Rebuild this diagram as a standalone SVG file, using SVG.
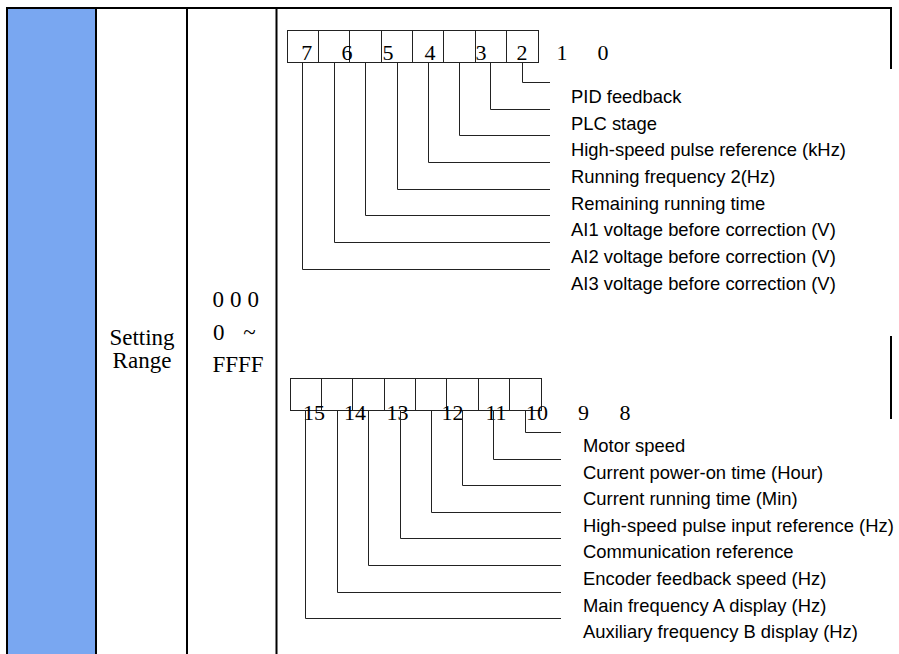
<svg xmlns="http://www.w3.org/2000/svg" width="899" height="654" viewBox="0 0 899 654">
<style>
.tb{stroke:#000;stroke-width:2;fill:none}
.bx{stroke:#222;stroke-width:1;fill:none}
.cn{stroke:#222;stroke-width:1;fill:none}
.tm{font-family:"Liberation Serif","Times New Roman",serif;font-size:23px;fill:#000}
.dg{font-family:"Liberation Serif","Times New Roman",serif;font-size:22px;fill:#000;text-anchor:middle}
.lb{font-family:"Liberation Sans",Arial,sans-serif;font-size:18.4px;fill:#000}
</style>
<rect width="899" height="654" fill="#fff"/>
<g id="table">
<rect x="8" y="9" width="87" height="645" fill="#79A7F1"/>
<path class="tb" d="M6 8H892M7 8V654M96 8V654M187 8V654M276.5 8V654M891 8V69M891 336V419"/>
<text class="tm" x="142" y="345" text-anchor="middle">Setting</text>
<text class="tm" x="142" y="368" text-anchor="middle">Range</text>
<text class="tm" x="212.5" y="306.5" letter-spacing="6">000</text>
<text class="tm" x="213" y="340" word-spacing="13">0 ~</text>
<text class="tm" x="238" y="371.5" text-anchor="middle">FFFF</text>
</g>
<g id="bits-low">
<rect class="bx" x="287.5" y="30.5" width="251" height="32"/>
<path class="bx" d="M318.5 30.5V62.5M349.5 30.5V62.5M381.5 30.5V62.5M412.5 30.5V62.5M443.5 30.5V62.5M475.5 30.5V62.5M506.5 30.5V62.5"/>
<text class="dg" x="306.7" y="60">7</text>
<text class="dg" x="347" y="60">6</text>
<text class="dg" x="388" y="60">5</text>
<text class="dg" x="430" y="60">4</text>
<text class="dg" x="481" y="60">3</text>
<text class="dg" x="522" y="60">2</text>
<text class="dg" x="562" y="60">1</text>
<text class="dg" x="603" y="60">0</text>
</g>
<g id="bits-high">
<rect class="bx" x="290.5" y="378.5" width="251" height="32"/>
<path class="bx" d="M321.5 378.5V410.5M352.5 378.5V410.5M384.5 378.5V410.5M415.5 378.5V410.5M446.5 378.5V410.5M478.5 378.5V410.5M509.5 378.5V410.5"/>
<text class="dg" x="314" y="420">15</text>
<text class="dg" x="355" y="420">14</text>
<text class="dg" x="397.5" y="420">13</text>
<text class="dg" x="452.5" y="420">12</text>
<text class="dg" x="496" y="420">11</text>
<text class="dg" x="537" y="420">10</text>
<text class="dg" x="583.5" y="420">9</text>
<text class="dg" x="625" y="420">8</text>
</g>
<g id="connectors">
<path class="cn" d="M522.5 62.5V82.5H550M490.5 62.5V109.5H550M459.5 62.5V135.5H550M428.5 62.5V162.5H550M397.5 62.5V189.5H550M365.5 62.5V215.5H550M334.5 62.5V242.5H550M302.5 62.5V269.5H550"/>
<path class="cn" d="M525.5 410.5V432.5H561M493.5 410.5V459.5H561M462.5 410.5V485.5H561M431.5 410.5V512.5H561M400.5 410.5V538.5H561M368.5 410.5V565.5H561M337.5 410.5V592.5H561M305.5 410.5V618.5H561"/>
</g>
<g id="labels-low">
<text class="lb" x="571" y="102.5">PID feedback</text>
<text class="lb" x="571" y="129.5">PLC stage</text>
<text class="lb" x="571" y="155.5">High-speed pulse reference (kHz)</text>
<text class="lb" x="571" y="182.5">Running frequency 2(Hz)</text>
<text class="lb" x="571" y="209.5">Remaining running time</text>
<text class="lb" x="571" y="235.5">AI1 voltage before correction (V)</text>
<text class="lb" x="571" y="262.5">AI2 voltage before correction (V)</text>
<text class="lb" x="571" y="289.5">AI3 voltage before correction (V)</text>
</g>
<g id="labels-high">
<text class="lb" x="583" y="452">Motor speed</text>
<text class="lb" x="583" y="479">Current power-on time (Hour)</text>
<text class="lb" x="583" y="505">Current running time (Min)</text>
<text class="lb" x="583" y="532">High-speed pulse input reference (Hz)</text>
<text class="lb" x="583" y="558">Communication reference</text>
<text class="lb" x="583" y="585">Encoder feedback speed (Hz)</text>
<text class="lb" x="583" y="612">Main frequency A display (Hz)</text>
<text class="lb" x="583" y="638">Auxiliary frequency B display (Hz)</text>
</g>
</svg>
